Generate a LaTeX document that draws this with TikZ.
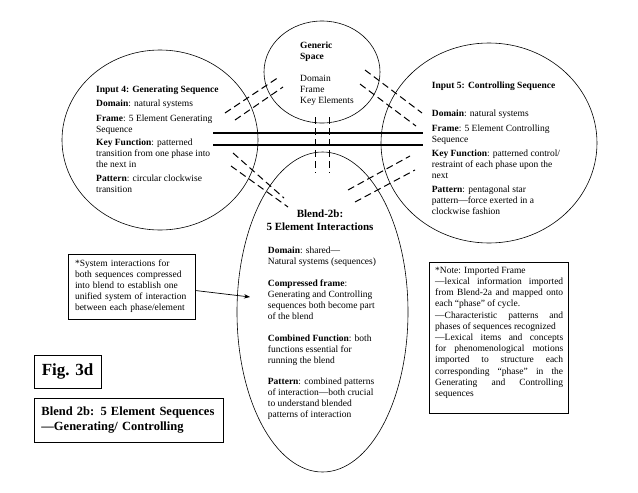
\documentclass[tikz,border=0pt]{standalone}
\usepackage{fontspec}
\setmainfont{Liberation Serif}
\usetikzlibrary{shapes.geometric,arrows.meta}

\begin{document}
\begin{tikzpicture}[x=1pt,y=-1pt,
    spaceoval/.style={draw,ellipse,line width=0.6pt,inner sep=0pt,outer sep=0pt},
    bodytext/.style={anchor=north west,inner sep=0pt,align=left,font=\fontsize{9.5}{10.8}\selectfont},
    mapline/.style={line width=1pt,dash pattern=on 7pt off 4pt},
    crossline/.style={line width=1.3pt},
    notebox/.style={draw,rectangle,line width=0.7pt,inner sep=0pt}]
                \useasboundingbox (0,0) rectangle (638,493);
                
                % Drawing the four spaces
                \node [spaceoval,minimum width=116,minimum height=102] (generic) at (322.0,72.0) {};%
                \node [spaceoval,minimum width=196,minimum height=180] (input4) at (160.0,140.0) {};%
                \node [spaceoval,minimum width=216,minimum height=200] (input5) at (489.0,143.0) {};%
                \node [spaceoval,minimum width=171,minimum height=320] (blend) at (322.5,312.0) {};%
                
                % Drawing cross-space lines
                \draw [crossline] (213.0,133.0) -- (423.0,133.0);%
                \draw [crossline] (213.0,145.0) -- (423.0,145.0);%
                
                % Drawing generic to blend
                \draw [mapline] (315.0,117.0) -- (315.0,173.0);%
                \draw [mapline] (329.0,117.0) -- (329.0,173.0);%
                
                % Drawing generic to input 4
                \draw [mapline] (225.0,113.0) -- (279.0,77.0);%
                \draw [mapline] (235.0,120.0) -- (283.0,87.0);%
                
                % Drawing input 4 to blend
                \draw [mapline] (233.0,153.0) -- (284.0,198.0);%
                \draw [mapline] (231.0,166.0) -- (288.0,207.0);%
                
                % Drawing generic to input 5
                \draw [mapline] (365.0,70.0) -- (422.0,113.0);%
                \draw [mapline] (360.0,84.0) -- (416.0,126.0);%
                
                % Drawing input 5 to blend
                \draw [mapline] (348.0,190.0) -- (410.0,156.0);%
                \draw [mapline] (355.0,202.0) -- (415.0,170.0);%
                
                % Marking generic space
                \draw (300.0,41.7) node [bodytext,font=\fontsize{9.5}{11}\selectfont] (generictext) {%
                  \textbf{Generic}\\
                  \textbf{Space}\\[10.7pt]
                  Domain\\
                  Frame\\
                  Key Elements};%
                
                % Marking input 4
                \draw (96.0,86.0) node [bodytext] (input4text) {%
                  \textbf{Input 4: Generating Sequence}\\[2.7pt]
                  \textbf{Domain}: natural systems\\[4.5pt]
                  \textbf{Frame}: 5 Element Generating\\
                  Sequence\\[2.5pt]
                  \textbf{Key Function}: patterned\\
                  transition from one phase into\\
                  the next in\\[3.5pt]
                  \textbf{Pattern}: circular clockwise\\
                  transition};%
                
                % Marking input 5
                \draw (431.7,81.7) node [bodytext] (input5text) {%
                  \textbf{Input 5: Controlling Sequence}\\[17pt]
                  \textbf{Domain}: natural systems\\[4.8pt]
                  \textbf{Frame}: 5 Element Controlling\\
                  Sequence\\[3.5pt]
                  \textbf{Key Function}: patterned control/\\
                  restraint of each phase upon the\\
                  next\\[3.3pt]
                  \textbf{Pattern}: pentagonal star\\
                  pattern---force exerted in a\\
                  clockwise fashion};%
                
                % Marking blend
                \draw (320.0,209.7) node [anchor=north,inner sep=0pt,align=center,font=\fontsize{11}{13.4}\selectfont\bfseries] (blendtitle) {%
                  Blend-2b:\\
                  5 Element Interactions};%
                \draw (267.7,246.7) node [bodytext,font=\fontsize{9.5}{11}\selectfont] (blendtext) {%
                  \textbf{Domain}: shared---\\
                  Natural systems (sequences)\\[10.7pt]
                  \textbf{Compressed frame}:\\
                  Generating and Controlling\\
                  sequences both become part\\
                  of the blend\\[11pt]
                  \textbf{Combined Function}: both\\
                  functions essential for\\
                  running the blend\\[10.7pt]
                  \textbf{Pattern}: combined patterns\\
                  of interaction---both crucial\\
                  to understand blended\\
                  patterns of interaction};%
                
                % Marking system note and its arrow
                \node [notebox,minimum width=127,minimum height=65,text width=113,align=left,font=\fontsize{9.5}{11}\selectfont] (sysnote) at (131.5,286.5) {%
                  *System interactions for\\
                  both sequences compressed\\
                  into blend to establish one\\
                  unified system of interaction\\
                  between each phase/element};%
                \coordinate (blendentry) at (250.0,297.0);%
                \draw [line width=0.7pt,-{Stealth[length=6pt,width=4.5pt]}] ([yshift=-4pt]sysnote.east) -- (blendentry);%
                
                % Marking imported frame note
                \node [notebox,minimum width=139,minimum height=151] (impnote) at (498.5,337.5) {};%
                \draw (435.0,266.5) node [bodytext,font=\fontsize{9.5}{11.2}\selectfont] (impnotetext) {%
                  *Note: Imported Frame\\
                  \makebox[128pt][s]{---lexical information imported}\\
                  \makebox[128pt][s]{from Blend-2a and mapped onto}\\
                  each “phase” of cycle.\\
                  \makebox[128pt][s]{---Characteristic patterns and}\\
                  phases of sequences recognized\\
                  \makebox[128pt][s]{---Lexical items and concepts}\\
                  \makebox[128pt][s]{for phenomenological motions}\\
                  \makebox[128pt][s]{imported to structure each}\\
                  \makebox[128pt][s]{corresponding “phase” in the}\\
                  \makebox[128pt][s]{Generating and Controlling}\\
                  sequences};%
                
                % Marking figure number and caption
                \node [notebox,minimum width=67,minimum height=33,font=\fontsize{17}{20}\selectfont\bfseries] (fignum) at (67.5,371.5) {Fig. 3d};%
                \node [notebox,minimum width=189,minimum height=44,text width=174,align=left,font=\fontsize{12.5}{15.7}\selectfont\bfseries] (figcaption) at (128.5,420.0) {%
                  Blend 2b: 5 Element Sequences\\
                  ---Generating/ Controlling};%
\end{tikzpicture}
\end{document}
